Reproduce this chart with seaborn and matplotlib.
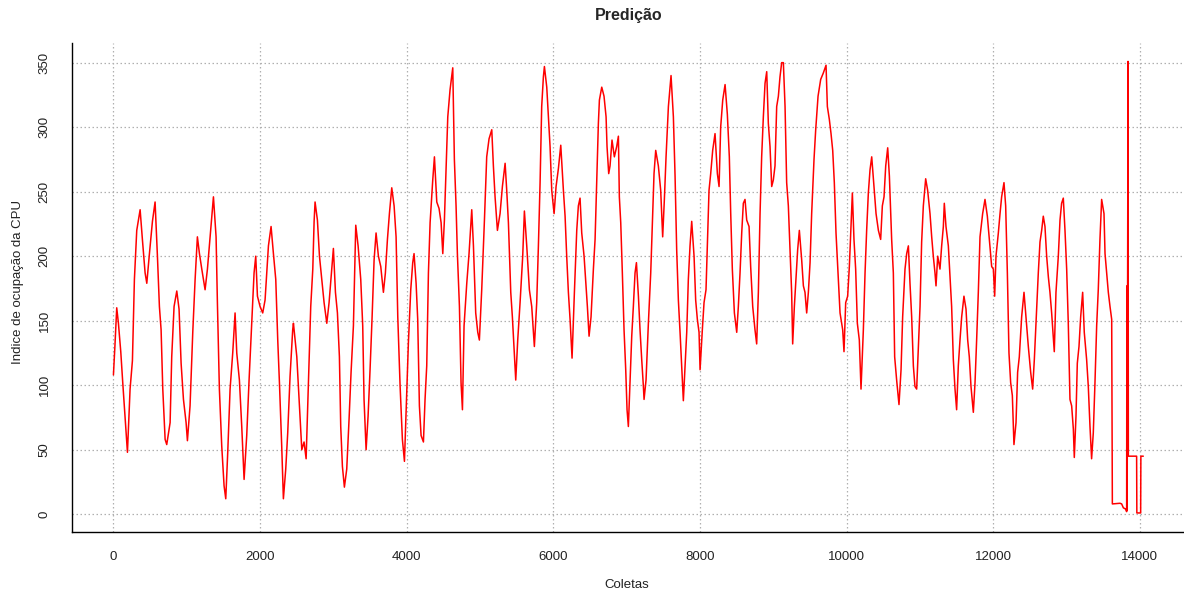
import numpy as np
import pandas as pd
import matplotlib
matplotlib.use("Agg")
import matplotlib.pyplot as plt
import seaborn as sns

# ---- data (Coletas, Indice de ocupacao) ----
trecho_0 = [(0,108),(20,130),(45,160),(68,148),(100,126),(127,102),(159,75),(191,48),(227,97),(259,119),
            (286,182),(318,220),(364,236),(395,213),(432,187),(455,179),(491,202),(532,227),(568,242),(600,200),
            (627,161),(650,143),(673,97),(705,58),(727,54),(773,71),(795,122),(827,161),(864,173),(895,159),
            (923,117),(955,89),(991,71),(1009,57),(1045,84),(1082,141),(1114,182),(1145,215),(1173,202),(1205,190),
            (1250,174),(1282,190),(1318,215),(1364,246),(1400,215),(1418,164),(1445,97),(1477,53),(1509,22),(1532,12),
            (1559,48),(1591,97),(1627,125),(1659,156),(1682,125),(1718,104),(1750,68),(1782,27),(1818,61),(1850,104),
            (1886,148),(1918,187),(1941,200),(1964,169),(2000,161),(2036,156),(2068,166),(2091,187),(2114,208),(2150,223),
            (2182,202),(2214,182),(2241,135),(2264,102),(2295,53),(2318,12),(2350,35),(2377,63),(2409,107),(2445,143)]
trecho_1 = [(2455,148),(2501,122),(2537,84),(2569,50),(2600,56),(2628,43),(2660,102),(2691,161),(2719,190),(2737,227),
            (2750,242),(2782,228),(2810,200),(2841,182),(2873,164),(2910,148),(2941,164),(2973,187),(3000,206),(3028,172),
            (3055,156),(3082,122),(3100,68),(3123,37),(3150,21),(3182,35),(3214,74),(3241,110),(3273,146),(3305,224),
            (3337,208),(3373,182),(3400,146),(3418,89),(3446,50),(3473,76),(3500,112),(3528,153),(3555,197),(3582,218),
            (3614,200),(3646,192),(3682,172),(3709,187),(3737,213),(3764,233),(3796,253),(3828,239),(3855,215),(3878,153),
            (3910,99),(3941,58),(3969,41),(4000,94),(4023,133),(4055,174),(4082,195),(4100,202),(4128,179),(4150,151),
            (4173,84),(4196,61),(4228,56),(4250,89),(4273,115),(4296,187),(4319,226),(4355,259),(4378,277),(4410,242),
            (4441,237),(4469,226),(4492,202),(4514,228),(4537,267),(4560,308),(4591,329),(4628,346),(4650,275),(4673,239),
            (4691,202),(4719,161),(4741,102),(4760,81),(4782,146),(4819,179),(4850,202),(4887,236),(4910,208),(4941,156),
            (4969,141),(4991,135),(5023,174),(5060,228),(5091,277),(5123,291)]
trecho_2 = [(5160,298),(5182,270),(5205,246),(5237,220),(5273,233),(5305,254),(5342,272),(5364,251),(5387,226),(5419,172),
            (5441,153),(5464,128),(5487,104),(5514,135),(5546,164),(5582,200),(5605,235),(5637,208),(5673,174),(5705,161),
            (5741,130),(5773,164),(5796,208),(5819,257),(5841,316),(5864,339),(5878,347),(5910,331),(5932,308),(5955,285),
            (5978,251),(6010,233),(6037,254),(6069,268),(6101,286),(6137,251),(6160,231),(6182,200),(6205,172),(6228,151),
            (6255,121),(6287,172),(6319,220),(6341,239),(6364,245),(6387,218),(6419,200),(6446,177),(6464,161),(6487,138),
            (6514,153),(6546,190),(6569,213),(6591,257),(6614,303),(6628,321),(6660,331),(6691,324),(6719,308),(6732,285),
            (6755,264),(6773,270),(6800,290),(6832,277),(6864,285),(6887,293),(6900,246),(6919,226),(6941,187),(6964,143),
            (6987,112),(7005,81),(7023,68),(7046,102),(7069,138),(7091,161),(7114,187),(7133,195),(7160,169),(7182,143),
            (7205,120),(7228,99),(7237,89),(7264,104),(7296,148),(7328,187),(7355,233),(7373,264),(7396,282),(7432,270),
            (7464,251),(7491,215),(7514,244),(7537,277),(7569,316),(7605,340)]
trecho_3 = [(7637,308),(7660,262),(7682,205),(7705,166),(7728,141),(7750,115),(7773,88),(7796,115),(7819,141),(7841,182),
            (7864,208),(7887,227),(7919,200),(7941,166),(7964,151),(7987,141),(8001,112),(8032,143),(8055,164),(8082,174),
            (8100,208),(8123,251),(8146,264),(8173,282),(8205,295),(8237,264),(8260,254),(8282,300),(8310,321),(8342,333),
            (8373,310),(8400,277),(8419,233),(8441,190),(8469,156),(8501,141),(8523,161),(8546,187),(8569,218),(8591,241),
            (8614,244),(8637,228),(8669,223),(8691,192),(8719,161),(8750,143),(8773,132),(8796,172),(8819,233),(8841,277),
            (8864,308),(8887,334),(8910,343),(8932,303),(8955,285),(8978,254),(9000,259),(9023,270),(9046,316),(9069,324),
            (9091,339),(9114,350),(9137,350),(9160,316),(9182,257),(9205,239),(9228,205),(9250,172),(9264,132),(9287,161),
            (9310,184),(9332,205),(9355,220),(9387,197),(9410,177),(9432,172),(9455,156),(9478,172),(9501,195),(9523,233),
            (9555,275),(9578,298),(9610,324),(9646,337),(9682,342),(9719,348),(9737,316),(9764,306),(9787,295),(9810,282),
            (9832,257),(9855,218),(9878,192),(9910,156),(9946,143),(9964,126),(9987,164),(10014,169),(10037,192),(10060,223),
            (10078,249),(10100,213),(10123,190),(10146,148),(10173,135),(10196,97)]
trecho_4 = [(10228,143),(10251,187),(10273,220),(10296,249),(10319,267),(10342,277),(10373,254),(10401,233),(10433,220),(10464,213),
            (10487,239),(10510,246),(10533,270),(10560,284),(10583,262),(10614,213),(10637,187),(10655,122),(10682,104),(10714,85),
            (10742,112),(10764,153),(10796,190),(10819,202),(10842,208),(10864,179),(10887,153),(10910,115),(10932,99),(10955,97),
            (10978,130),(11001,161),(11023,211),(11046,239),(11078,260),(11105,251),(11137,233),(11160,215),(11182,200),(11205,187),
            (11219,177),(11242,200),(11273,190),(11296,208),(11319,223),(11332,241),(11355,223),(11387,208),(11410,184),(11432,161),
            (11455,120),(11478,97),(11500,81),(11523,115),(11546,135),(11569,153),(11600,169),(11628,159),(11651,135),(11673,122),
            (11696,99),(11728,79),(11751,102),(11773,135),(11796,172),(11819,215),(11855,233),(11887,244),(11919,231),(11946,213),
            (11978,192),(12001,190),(12019,169),(12037,200),(12069,218),(12092,233),(12114,246),(12146,257),(12169,239),(12192,187),
            (12214,125),(12237,102),(12260,92),(12282,54),(12310,71),(12332,110),(12355,122),(12387,153),(12419,172),(12446,153),
            (12478,130),(12510,110),(12537,97),(12560,120),(12582,148),(12614,187),(12637,211),(12660,220),(12682,231),(12705,223),
            (12728,200),(12751,184),(12773,172),(12796,156),(12832,126)]
trecho_5 = [(12855,172),(12887,200),(12910,228),(12932,241),(12955,245),(12978,220),(13001,190),(13023,148),(13046,89),(13069,84),
            (13092,66),(13105,44),(13128,76),(13146,117),(13169,130),(13192,153),(13219,172),(13241,141),(13273,120),(13296,99),
            (13319,68),(13341,43),(13364,63),(13387,102),(13410,146),(13432,174),(13455,213),(13478,244),(13510,233),(13524,202),
            (13546,187),(13569,172),(13592,161),(13615,151),(13624,8),(13728,8.5),(13751,8),(13774,5),(13805,4),(13819,2),
            (13822,177),(13826,3),(13838,351),(13842,45),(13955,45),(13958,1),(14010,1),(14013,45),(14046,45)]

titulo = "Predição"
rotulo_x = "Coletas"
rotulo_y = "Indice de ocupação da CPU"
ticks_x = [0, 2000, 4000, 6000, 8000, 10000, 12000, 14000]
ticks_y = [0, 50, 100, 150, 200, 250, 300, 350]

pontos = trecho_0 + trecho_1 + trecho_2 + trecho_3 + trecho_4 + trecho_5
df = pd.DataFrame(pontos, columns=["coleta", "indice"])

sns.set_style("white")
plt.rcParams["font.family"] = ["Liberation Sans", "DejaVu Sans"]

W, H = 1184, 593
fig = plt.figure(figsize=(W / 100, H / 100), dpi=100)
left, right, top, bottom = 72.3, 1184.5, 43.3, 532.3
ax = fig.add_axes([left / W, 1 - bottom / H, (right - left) / W, (bottom - top) / H])

sns.lineplot(data=df, x="coleta", y="indice", ax=ax, color="#ff0000", linewidth=1.1,
             sort=False, estimator=None, zorder=3)

ax.set_xlim(-561, 14608)
ax.set_ylim(-14, 365)
ax.set_xticks(ticks_x)
ax.set_yticks(ticks_y)
ax.set_xticklabels([str(t) for t in ticks_x])
ax.set_yticklabels([str(t) for t in ticks_y], rotation=90, va="center")

ax.grid(True, color="#b0b0b0", linestyle=(0, (1.2, 2.0)), linewidth=0.9, zorder=0)
for s in ["top", "right"]:
    ax.spines[s].set_visible(False)
for s in ["left", "bottom"]:
    ax.spines[s].set_color("black")
    ax.spines[s].set_linewidth(1.0)

ax.tick_params(axis="both", direction="out", length=6.5, width=1.0, color="#333333",
               labelsize=9.5, labelcolor="#222222")
ax.tick_params(axis="x", pad=7)
ax.tick_params(axis="y", pad=9)

ax.set_xlabel(rotulo_x, fontsize=9.5, color="#222222", va="center")
ax.xaxis.set_label_coords(0.4985, (bottom - 585) / (bottom - top))
ax.set_ylabel(rotulo_y, fontsize=9.5, color="#222222", va="center")
ax.yaxis.set_label_coords((18 - left) / (right - left), (bottom - 281.7) / (bottom - top))
ax.set_title(titulo, fontsize=11.5, fontweight="bold", y=(bottom - 15) / (bottom - top),
             va="center", pad=0)

fig.savefig("out.png", dpi=100)
